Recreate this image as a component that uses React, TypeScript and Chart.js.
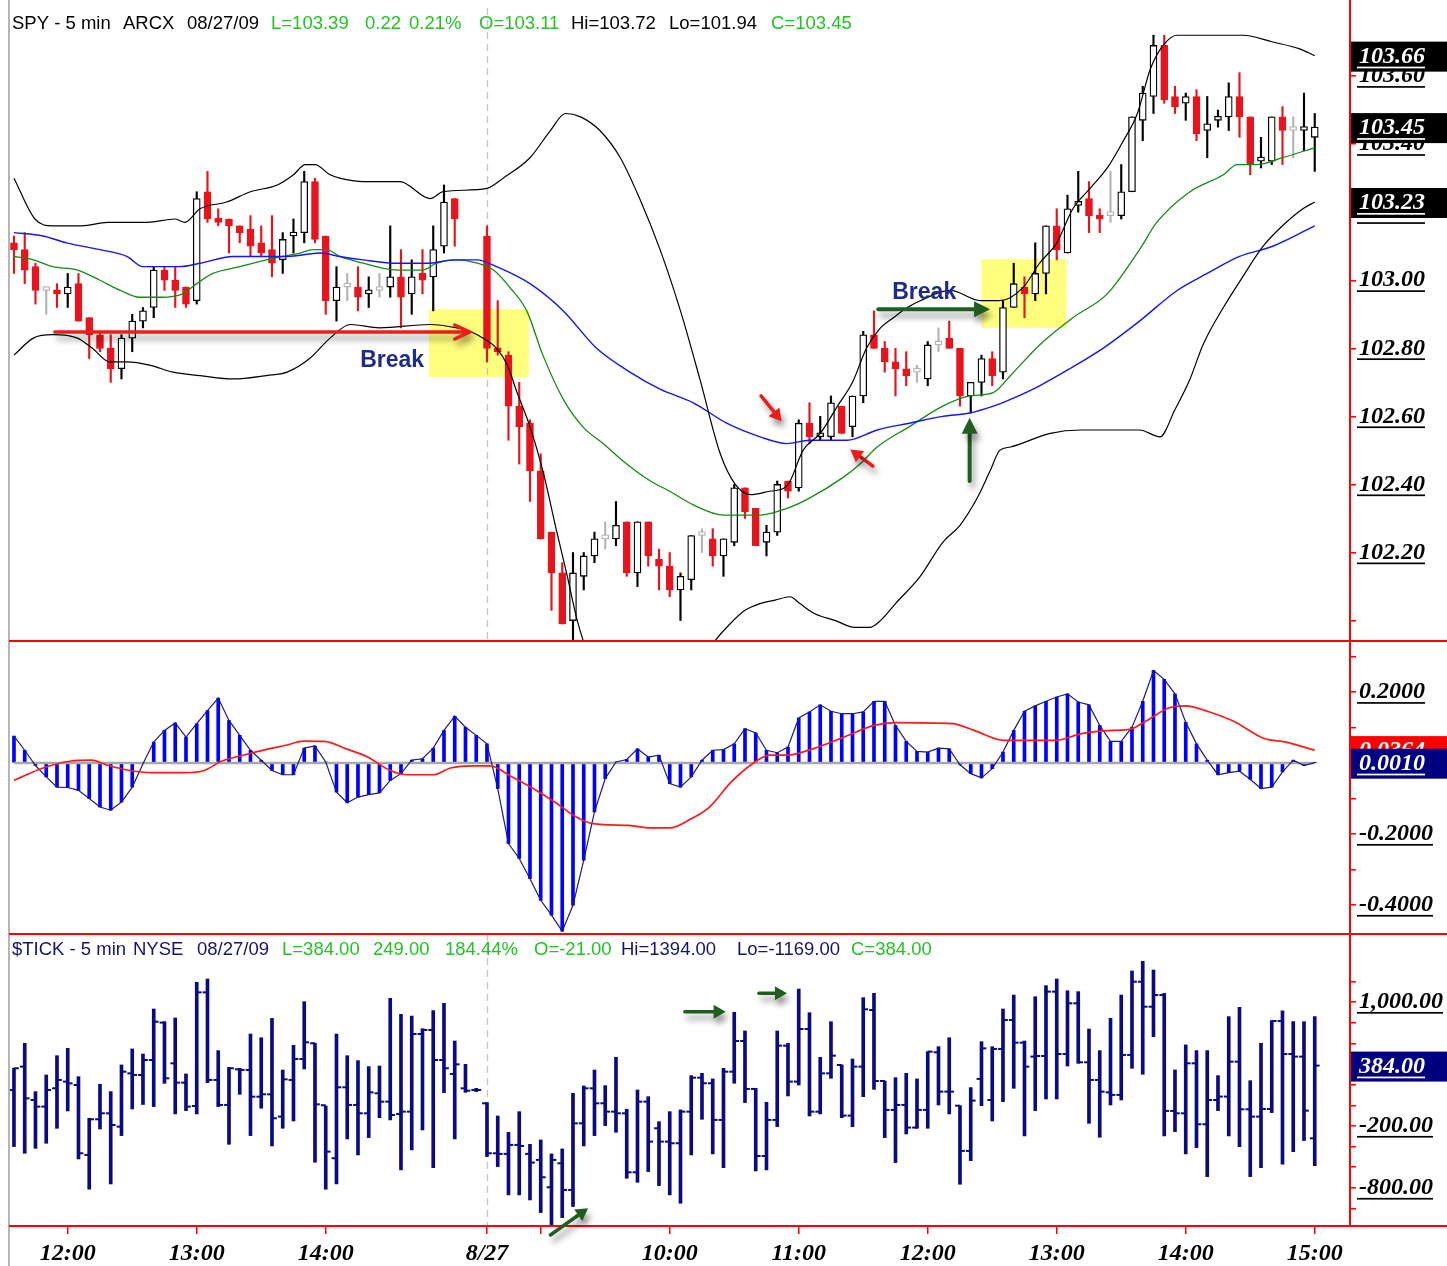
import React, { useEffect, useRef } from 'react';
import { Chart, registerables } from 'chart.js';

Chart.register(...registerables);

const W = 1447;
const H = 1266;

// ---------- categories: 5-minute bars (index 0 = 8/26 11:35 CT, index 44 = 8/27 08:35, index 121 = 15:00)
const xTickBars = [5, 17, 29, 44, 49, 61, 73, 85, 97, 109, 121];
const xTickLabels = ['12:00', '13:00', '14:00', '8/27', '', '10:00', '11:00', '12:00', '13:00', '14:00', '15:00'];
const sessionBreakBar = 44;

// ---------- SPY 5 min candles
const spyOpen = [103.11,103.09,103.04,102.97,102.97,102.96,102.99,102.89,102.84,102.80,
 102.74,102.83,102.88,102.92,103.03,103.00,102.98,102.94,103.26,103.18,
 103.18,103.16,103.15,103.11,103.09,103.06,103.13,103.14,103.29,103.13,
 102.94,102.98,102.98,102.96,102.97,102.98,103.01,102.96,103.02,103.01,
 103.10,103.24,null,null,103.13,102.80,102.78,102.63,102.58,102.44,
 102.26,102.14,102.00,102.13,102.19,102.24,102.24,102.29,102.14,102.29,
 102.18,102.16,102.09,102.12,102.25,102.24,102.19,102.23,102.39,102.33,
 102.23,102.26,102.41,102.39,102.58,102.54,102.54,102.63,102.57,102.66,
 102.84,102.80,102.76,102.74,102.73,102.71,102.81,102.83,102.80,102.66,
 102.70,102.77,102.73,102.92,102.98,102.96,103.02,103.16,103.08,103.22,
 103.24,103.19,103.19,103.19,103.26,103.47,103.54,103.69,103.54,103.52,
 103.54,103.44,103.47,103.48,103.54,103.48,103.35,103.35,103.48,103.44,
 103.44,103.42];
const spyHigh = [103.13,103.14,103.05,102.98,102.99,103.02,103.02,102.89,102.85,102.84,
 102.84,102.90,102.92,103.04,103.04,103.04,102.98,103.26,103.32,103.21,
 103.18,103.16,103.19,103.16,103.19,103.14,103.18,103.32,103.30,103.13,
 103.04,103.02,103.04,103.01,103.02,103.16,103.09,103.06,103.09,103.16,
 103.28,103.24,null,null,103.16,102.94,102.79,102.70,102.59,102.49,
 102.26,102.17,102.20,102.20,102.26,102.29,102.35,102.29,102.29,102.29,
 102.21,102.20,102.14,102.25,102.27,102.27,102.24,102.40,102.39,102.33,
 102.28,102.41,102.41,102.59,102.64,102.60,102.66,102.63,102.66,102.85,
 102.91,102.82,102.80,102.79,102.75,102.82,102.86,102.88,102.80,102.70,
 102.78,102.79,102.94,103.05,103.01,103.11,103.16,103.21,103.25,103.32,
 103.29,103.21,103.32,103.34,103.48,103.57,103.72,103.72,103.57,103.55,
 103.56,103.54,103.50,103.58,103.61,103.48,103.42,103.48,103.51,103.48,
 103.55,103.49];
const spyLow = [103.02,102.99,102.93,102.90,102.92,102.92,102.88,102.77,102.79,102.70,
 102.71,102.79,102.86,102.89,102.97,102.92,102.92,102.93,103.17,103.16,
 103.08,103.11,103.07,103.07,103.01,103.02,103.08,103.11,103.11,102.90,
 102.88,102.94,102.91,102.92,102.95,102.95,102.86,102.90,102.96,102.91,
 103.08,103.10,null,null,102.76,102.78,102.53,102.46,102.35,102.24,
 102.03,101.99,101.94,102.09,102.17,102.21,102.22,102.13,102.10,102.16,
 102.09,102.07,102.00,102.09,102.20,102.16,102.13,102.22,102.30,102.22,
 102.19,102.25,102.36,102.38,102.52,102.53,102.53,102.55,102.54,102.64,
 102.80,102.73,102.66,102.69,102.70,102.69,102.79,102.80,102.63,102.61,
 102.66,102.69,102.71,102.92,102.89,102.94,102.96,103.06,103.08,103.20,
 103.14,103.14,103.17,103.18,103.26,103.41,103.49,103.52,103.49,103.47,
 103.41,103.36,103.45,103.44,103.42,103.31,103.33,103.34,103.34,103.36,
 103.38,103.32];
const spyClose = [103.09,103.03,102.97,102.97,102.96,102.98,102.88,102.84,102.80,102.74,
 102.83,102.88,102.91,103.03,103.00,102.97,102.93,103.24,103.18,103.17,
 103.16,103.14,103.10,103.08,103.05,103.12,103.14,103.29,103.12,102.94,
 102.98,102.98,102.95,102.97,102.97,103.01,102.95,103.01,103.00,103.09,
 103.23,103.18,null,null,102.80,102.79,102.63,102.57,102.44,102.24,
 102.14,101.99,102.14,102.19,102.24,102.24,102.28,102.14,102.29,102.19,
 102.16,102.09,102.13,102.25,102.25,102.19,102.24,102.39,102.32,102.22,
 102.26,102.40,102.38,102.58,102.54,102.55,102.64,102.55,102.66,102.84,
 102.80,102.76,102.74,102.72,102.73,102.81,102.81,102.80,102.66,102.70,
 102.77,102.72,102.92,102.99,102.96,103.02,103.16,103.09,103.21,103.23,
 103.19,103.18,103.19,103.26,103.48,103.55,103.69,103.53,103.51,103.54,
 103.43,103.46,103.48,103.54,103.48,103.34,103.36,103.48,103.44,103.44,
 103.45,103.45];

// ---------- price overlays [bar index, value]
const upperBand = [[0,103.30],[1.95,103.18],[3.6,103.16],[6.3,103.16],[8.7,103.17],[12.4,103.17],[15,103.18],[15.9,103.17],[17.3,103.21],[19.8,103.23],[22,103.26],[24.5,103.28],[26,103.31],[27.1,103.34],[28,103.34],[29.4,103.31],[30.3,103.30],[32.5,103.29],[35.9,103.29],[38.7,103.24],[39.9,103.26],[44,103.27],[45.5,103.30],[48,103.36],[49.9,103.44],[51.3,103.49],[52.7,103.48],[54.5,103.44],[56.4,103.36],[58.2,103.24],[60.1,103.09],[62,102.91],[63.8,102.71],[65.7,102.49],[67.1,102.40],[68.5,102.37],[70.3,102.38],[71.7,102.39],[72.2,102.41],[73.4,102.50],[75,102.55],[76.6,102.63],[78,102.70],[79.3,102.80],[80.6,102.86],[81.8,102.89],[83.1,102.92],[84.3,102.94],[87.1,102.97],[89.9,102.94],[91.7,102.94],[93.9,102.98],[95.4,103.05],[97,103.11],[98.5,103.21],[100.1,103.27],[101.7,103.33],[103.2,103.41],[104.5,103.49],[105.7,103.62],[106.9,103.69],[108.2,103.72],[111.5,103.72],[114.3,103.72],[117.1,103.70],[119.6,103.68],[121,103.66]];
const lowerBand = [[0,102.78],[1.8,102.83],[3.6,102.84],[5.9,102.83],[7.3,102.80],[8.9,102.76],[10.5,102.76],[12.7,102.75],[14.8,102.73],[17.3,102.72],[20.4,102.71],[23.5,102.72],[25.4,102.73],[27.5,102.77],[29.4,102.83],[31.3,102.87],[34,102.86],[38.7,102.87],[41.2,102.86],[42.4,102.85],[43.6,102.83],[44.9,102.80],[45.9,102.75],[46.8,102.67],[48,102.57],[49.2,102.44],[50.5,102.26],[51.4,102.14],[52.4,102.00],[53.3,101.91],[55.4,101.77],[58.2,101.68],[61,101.74],[63.8,101.87],[65.2,101.94],[66.6,101.99],[68,102.03],[69.4,102.05],[70.8,102.06],[72.2,102.07],[73.1,102.05],[74.5,102.02],[76.4,102.00],[78.2,101.98],[79.6,101.98],[80.6,102.00],[82,102.05],[84.3,102.13],[86.4,102.23],[88,102.28],[89.6,102.36],[90.8,102.44],[91.7,102.50],[92.7,102.51],[96.4,102.55],[99.2,102.56],[102,102.56],[104.7,102.56],[106.6,102.54],[108,102.62],[109.4,102.71],[110.6,102.81],[112.5,102.92],[114.3,103.01],[116.2,103.10],[118,103.16],[119.9,103.21],[121,103.23]];
const blueAverage = [[0,103.14],[2.7,103.13],[4.9,103.11],[8,103.09],[10.5,103.07],[12,103.04],[15.4,103.04],[17.3,103.05],[20.4,103.07],[25.4,103.07],[28.5,103.08],[30.3,103.07],[32.5,103.06],[35.6,103.05],[38.7,103.05],[40.8,103.06],[43.1,103.06],[44.9,103.04],[48,102.99],[51.1,102.91],[54.2,102.80],[57.3,102.73],[60.1,102.68],[63.2,102.64],[66.3,102.58],[69.4,102.54],[71.9,102.52],[74,102.53],[77.5,102.53],[80.3,102.56],[83.3,102.58],[86.4,102.60],[88.9,102.61],[91.1,102.63],[92.7,102.65],[95.4,102.69],[98.2,102.74],[101.3,102.80],[104.7,102.88],[108.2,102.97],[111,103.02],[114,103.07],[117.1,103.10],[121,103.16]];
const greenAverage = [[0,103.07],[1.8,103.06],[3.6,103.04],[5.9,103.03],[8,103.00],[9.9,102.97],[11.7,102.95],[13.6,102.95],[15.7,102.96],[17,102.99],[18.5,103.02],[21,103.04],[23.5,103.06],[25,103.07],[26.6,103.08],[27.8,103.09],[29.1,103.09],[30.3,103.07],[32.5,103.05],[35.6,103.03],[38,103.03],[39.3,103.05],[41.2,103.06],[43.1,103.05],[44.6,103.03],[46.1,102.98],[47.7,102.91],[49.2,102.78],[51.1,102.65],[52.9,102.57],[54.8,102.52],[57,102.46],[59.2,102.41],[61,102.38],[63.2,102.34],[66,102.31],[69.4,102.31],[71.9,102.33],[74,102.36],[77.1,102.42],[78.7,102.46],[80.3,102.51],[83.3,102.57],[86.4,102.63],[88.9,102.66],[91.1,102.67],[92.7,102.72],[95.4,102.81],[98.5,102.89],[101.7,102.96],[104.7,103.09],[106.3,103.17],[109.4,103.26],[112.5,103.31],[113.8,103.34],[115.6,103.34],[118,103.36],[121,103.39]];

// ---------- MACD-style oscillator
const macdHist = [0.076,0.036,-0.007,-0.039,-0.068,-0.069,-0.077,-0.100,-0.124,-0.133,
 -0.110,-0.068,-0.002,0.059,0.092,0.113,0.073,0.111,0.148,0.183,
 0.120,0.078,0.036,0.008,-0.021,-0.033,-0.033,0.042,0.048,0.003,
 -0.082,-0.112,-0.096,-0.089,-0.084,-0.049,-0.030,0.008,0.012,0.042,
 0.092,0.132,0.101,0.078,0.054,-0.072,-0.227,-0.269,-0.326,-0.387,
 -0.429,-0.474,-0.401,-0.274,-0.138,-0.044,0.003,0.010,0.040,0.017,
 0.022,-0.058,-0.068,-0.039,0.008,0.036,0.038,0.054,0.097,0.085,
 0.036,0.029,0.045,0.127,0.144,0.164,0.146,0.139,0.139,0.144,
 0.174,0.174,0.106,0.061,0.033,0.031,0.042,0.040,-0.005,-0.030,
 -0.042,-0.016,0.031,0.092,0.146,0.161,0.174,0.186,0.195,0.172,
 0.164,0.106,0.061,0.061,0.101,0.174,0.261,0.236,0.195,0.115,
 0.054,0.008,-0.033,-0.027,-0.023,-0.046,-0.072,-0.068,-0.025,0.008,
 -0.007,0.001];
const macdSignal = [[0,-0.049],[2.7,-0.014],[5.2,0.005],[7.2,0.008],[8.8,-0.007],[10.8,-0.021],[12.8,-0.027],[16,-0.027],[17.7,-0.021],[19.3,0.005],[21.3,0.022],[23.7,0.040],[25.3,0.050],[26.9,0.062],[28.9,0.061],[30.9,0.040],[32.9,0.017],[35,-0.021],[36.6,-0.033],[39,-0.033],[40.6,-0.014],[42.7,-0.008],[44.3,-0.008],[46.3,-0.039],[48.3,-0.072],[50.3,-0.110],[52.3,-0.152],[53.9,-0.171],[57.2,-0.176],[59.2,-0.183],[61,-0.183],[63,-0.157],[64.7,-0.124],[66.7,-0.054],[68.7,-0.002],[70.3,0.022],[71.9,0.022],[74.3,0.040],[77.2,0.073],[80,0.106],[82,0.114],[87.3,0.111],[89.3,0.092],[92.1,0.064],[96.9,0.064],[99.3,0.083],[102.2,0.092],[103.8,0.095],[105.4,0.120],[107.4,0.155],[109,0.161],[111,0.146],[113.5,0.117],[116.3,0.069],[118.3,0.059],[121,0.0364]];

// ---------- $TICK 5 min OHLC
const tickOpen = [148,374,51,-13,164,229,196,-481,-136,-78,-207,309,293,438,800,406,219,-7,1093,245,3,348,342,83,106,-110,245,448,600,0,-513,174,3,-78,116,35,-84,-62,690,729,438,303,164,148,19,-465,-471,-384,-471,-529,-794,-562,-820,-175,164,19,-62,-78,-649,35,-223,-352,-368,-62,267,213,-142,325,622,158,-491,-142,577,229,738,-62,309,390,-100,374,922,235,-45,3,-216,-45,513,132,-4,-442,255,51,545,825,606,471,477,1100,496,987,416,245,125,100,487,1196,954,1067,-55,-78,406,-184,51,84,422,-39,-110,-36,816,496,471,-320];
const tickHigh = [358,600,132,293,480,551,277,-126,203,132,390,545,496,932,809,845,303,1190,1222,529,367,358,690,654,841,341,580,1003,600,0,690,480,432,374,380,1035,880,864,741,916,987,622,396,164,25,-104,-262,-62,-378,-336,-471,-423,116,187,341,190,464,-39,148,83,-159,-62,-45,287,309,255,358,900,719,164,29,719,600,1125,896,464,809,390,448,1042,1084,235,267,309,255,519,567,654,-4,171,616,567,932,1067,622,1051,1158,1222,1109,1100,738,529,842,1067,1300,1394,1309,1084,342,584,529,529,287,858,948,238,600,820,913,809,809,858];
const tickLow = [-400,-465,-417,-368,-223,-55,-520,-813,-230,-762,-294,-36,0,-13,212,-84,-52,-84,219,-13,-378,106,-294,-29,-394,-223,-152,351,-552,-813,-762,-326,-481,-313,-120,-142,-626,-433,-239,-604,122,-326,125,132,-497,-594,-868,-868,-917,-1039,-1169,-1088,-981,-394,-294,-197,-262,-707,-746,-642,-778,-868,-949,-481,-136,-471,-604,213,26,-636,-626,-207,90,196,-104,-84,261,-120,-207,83,154,-313,-555,-278,-223,-223,3,-84,-765,-536,-4,-152,35,164,-297,-52,61,61,380,406,-175,-310,3,51,358,300,664,-297,-255,-471,-410,-691,-52,-297,-400,-691,-604,-71,-571,-449,-342,-584];
const tickClose = [358,67,-13,148,245,212,-465,-136,-78,-191,325,293,438,809,261,219,-13,1093,245,3,358,342,83,106,-126,251,448,609,9,-449,174,3,-78,125,35,-94,-62,690,729,438,358,396,141,148,-465,-471,-384,-394,-555,-697,-529,-820,-175,164,19,-62,-78,-649,35,-352,-352,-368,-62,267,213,-142,325,622,158,-491,-142,577,229,738,-62,309,480,-100,374,929,235,-45,3,-216,-45,519,132,132,-442,45,551,545,825,606,374,477,1100,496,987,416,245,132,100,487,1196,954,1067,-55,-78,406,-184,51,84,422,-39,-110,-36,816,496,471,-52,384];

// ---------- axis ticks
const priceTickValues = [102.0, 102.2, 102.4, 102.6, 102.8, 103.0, 103.2, 103.4, 103.6];
const priceLabelValues = [102.2, 102.4, 102.6, 102.8, 103.0, 103.2, 103.4, 103.6];
const macdTickValues = [0.3, 0.2, 0.1, 0, -0.1, -0.2, -0.3, -0.4];
const macdLabelValues = [0.2, 0, -0.2, -0.4];
const tickTickValues = [1200, 1000, 800, 600, 400, 200, 0, -200, -400, -600, -800, -1000];
const tickLabelValues = [1000, 400, -200, -800];

// ---------- annotations (data coordinates)
const highlightBoxes = [
  { from: 38.6, to: 47.9, top: 102.915, bottom: 102.716 },
  { from: 90.0, to: 97.9, top: 103.062, bottom: 102.86 },
];
const priceArrows = [
  { from: [3.8, 102.848], to: [42.4, 102.848], color: '#ee1c1c', kind: 'chevron' },
  { from: [80.4, 102.915], to: [90.8, 102.915], color: '#1f5e1f', kind: 'big' },
  { from: [69.5, 102.66], to: [71.4, 102.586], color: '#ee1c1c', kind: 'small' },
  { from: [79.9, 102.454], to: [77.8, 102.503], color: '#ee1c1c', kind: 'small' },
  { from: [88.9, 102.41], to: [88.9, 102.596], color: '#1f5e1f', kind: 'big' },
];
const tickArrows = [
  { from: [62.4, 906], to: [66.2, 906], color: '#1f5e1f', kind: 'small' },
  { from: [69.3, 1084], to: [71.9, 1084], color: '#1f5e1f', kind: 'small' },
  { from: [49.9, -1256], to: [53.4, -997], color: '#1f5e1f', kind: 'small' },
];
const breakLabels = [
  { at: 32.2, price: 102.765, text: 'Break' },
  { at: 81.7, price: 102.965, text: 'Break' },
];

const RED = '#e8141c';
const DOJI = '#b4b4b4';
const NAVY = '#0a0a82';
const TXT_GREEN = '#22c422';

const lastOf = (a: any[]) => a[a.length - 1];
const maxOf = (a: any[]) => Math.max(...a.filter((v) => v != null));
const minOf = (a: any[]) => Math.min(...a.filter((v) => v != null));

const spyHeader = [
  { text: 'SPY - 5 min', color: '#000' },
  { text: 'ARCX', color: '#000' },
  { text: '08/27/09', color: '#000' },
  { text: 'L=103.39', color: TXT_GREEN },
  { text: '0.22', color: TXT_GREEN },
  { text: '0.21%', color: TXT_GREEN },
  { text: 'O=103.11', color: TXT_GREEN },
  { text: 'Hi=' + maxOf(spyHigh).toFixed(2), color: '#000' },
  { text: 'Lo=' + minOf(spyLow).toFixed(2), color: '#000' },
  { text: 'C=' + lastOf(spyClose).toFixed(2), color: TXT_GREEN },
];
const spyHeaderX = [12, 123, 187, 271, 365, 409, 479, 571, 669, 771];
const tickHeader = [
  { text: '$TICK - 5 min', color: '#141470' },
  { text: 'NYSE', color: '#141470' },
  { text: '08/27/09', color: '#141470' },
  { text: 'L=384.00', color: TXT_GREEN },
  { text: '249.00', color: TXT_GREEN },
  { text: '184.44%', color: TXT_GREEN },
  { text: 'O=-21.00', color: TXT_GREEN },
  { text: 'Hi=' + maxOf(tickHigh).toFixed(2), color: '#141470' },
  { text: 'Lo=' + minOf(tickLow).toFixed(2), color: '#141470' },
  { text: 'C=' + lastOf(tickClose).toFixed(2), color: TXT_GREEN },
];
const tickHeaderX = [12, 133, 197, 282, 373, 445, 534, 621, 737, 851];

const pts = (arr: number[][]) => arr.map(([x, y]) => ({ x, y }));
const fmtTick = (v: number) => v.toLocaleString('en-US', { minimumFractionDigits: 2, maximumFractionDigits: 2 });

function hline(ctx: any, x0: number, y0: number, x1: number, y1: number) {
  ctx.beginPath();
  ctx.moveTo(x0, y0);
  ctx.lineTo(x1, y1);
  ctx.stroke();
}

function drawArrow(ctx: any, x0: number, y0: number, x1: number, y1: number, color: string, kind: string) {
  const ang = Math.atan2(y1 - y0, x1 - x0);
  const cos = Math.cos(ang), sin = Math.sin(ang);
  const width = kind === 'big' ? 4 : 3.5;
  const len = kind === 'big' ? 16 : kind === 'chevron' ? 15 : 12;
  const half = kind === 'big' ? 8 : 7;
  ctx.save();
  ctx.shadowColor = 'rgba(0,0,0,0.4)';
  ctx.shadowBlur = 6;
  ctx.shadowOffsetX = 3;
  ctx.shadowOffsetY = 6;
  ctx.strokeStyle = color;
  ctx.fillStyle = color;
  ctx.lineWidth = width;
  ctx.lineCap = 'round';
  ctx.lineJoin = 'round';
  const hx = x1 - cos * len, hy = y1 - sin * len;
  const px = -sin * half, py = cos * half;
  ctx.beginPath();
  ctx.moveTo(x0, y0);
  if (kind === 'chevron') {
    ctx.lineTo(x1 - cos * 2, y1 - sin * 2);
    ctx.moveTo(hx + px, hy + py);
    ctx.lineTo(x1, y1);
    ctx.lineTo(hx - px, hy - py);
    ctx.stroke();
  } else {
    ctx.lineTo(hx + cos * 2, hy + sin * 2);
    ctx.stroke();
    ctx.beginPath();
    ctx.moveTo(x1, y1);
    ctx.lineTo(hx + px, hy + py);
    ctx.lineTo(hx - px, hy - py);
    ctx.closePath();
    ctx.fill();
  }
  ctx.restore();
}

const AXIS_FONT = 'italic bold 24px "Liberation Serif", "Times New Roman", serif';

function axisText(ctx: any, text: string, x: number, y: number, color: string) {
  ctx.fillStyle = color;
  ctx.fillText(text, x, y);
  const w = ctx.measureText(text).width;
  ctx.fillRect(x - 2, y + 10, w + 2, 1.7);
}

const decorPlugin = {
  id: 'decor',
  beforeDatasetsDraw(chart: any) {
    const { ctx, scales } = chart;
    const x = scales.x, yP = scales.yPrice, yT = scales.yTick;
    ctx.save();
    ctx.fillStyle = 'rgba(255,255,40,0.6)';
    highlightBoxes.forEach((b) => {
      const l = x.getPixelForValue(b.from), r = x.getPixelForValue(b.to);
      const t = yP.getPixelForValue(b.top), bt = yP.getPixelForValue(b.bottom);
      ctx.fillRect(l, t, r - l, bt - t);
    });
    const sx = Math.round(x.getPixelForValue(sessionBreakBar)) + 0.5;
    ctx.strokeStyle = '#c4c4c4';
    ctx.lineWidth = 1.3;
    ctx.setLineDash([7, 5]);
    [yP, yT].forEach((s) => hline(ctx, sx, s.top, sx, s.bottom));
    ctx.restore();
  },
  beforeDatasetDraw(chart: any, args: any) {
    const ys = args.meta.yScale;
    const ctx = chart.ctx;
    ctx.save();
    ctx.beginPath();
    ctx.rect(chart.chartArea.left, ys.top, chart.chartArea.right - chart.chartArea.left, ys.bottom - ys.top);
    ctx.clip();
  },
  afterDatasetDraw(chart: any) {
    chart.ctx.restore();
  },
  afterDraw(chart: any) {
    const { ctx, scales, chartArea } = chart;
    const x = scales.x, yP = scales.yPrice, yM = scales.yMacd, yT = scales.yTick;
    ctx.save();
    // frame
    ctx.strokeStyle = '#9c9c9c';
    ctx.lineWidth = 1.5;
    hline(ctx, 9, 0, 9, H);
    ctx.strokeStyle = '#ff0000';
    ctx.lineWidth = 2;
    hline(ctx, chartArea.right, 0, chartArea.right, yT.bottom);
    [yP.bottom, yM.bottom, yT.bottom].forEach((yy) => hline(ctx, 9, yy, W, yy));

    // right axis labels
    ctx.font = AXIS_FONT;
    ctx.textAlign = 'left';
    ctx.textBaseline = 'middle';
    const lx = chartArea.right + 9;
    priceLabelValues.forEach((v) => axisText(ctx, v.toFixed(2), lx, yP.getPixelForValue(v), '#000'));
    macdLabelValues.forEach((v) => axisText(ctx, v.toFixed(4), lx, yM.getPixelForValue(v), '#000'));
    tickLabelValues.forEach((v) => axisText(ctx, fmtTick(v), lx, yT.getPixelForValue(v), '#000'));

    // last-value boxes
    const box = (text: string, py: number, bg: string) => {
      ctx.fillStyle = bg;
      ctx.fillRect(chartArea.right + 1, py - 14, W - chartArea.right - 1, 30);
      axisText(ctx, text, lx, py + 1, '#ffffff');
    };
    box(lastOf(upperBand)[1].toFixed(2), yP.getPixelForValue(lastOf(upperBand)[1]), '#000');
    box(lastOf(spyClose).toFixed(2), yP.getPixelForValue(lastOf(spyClose)), '#000');
    box(lastOf(lowerBand)[1].toFixed(2), yP.getPixelForValue(lastOf(lowerBand)[1]), '#000');
    box(lastOf(macdSignal)[1].toFixed(4), yM.getPixelForValue(lastOf(macdSignal)[1]), '#ff0000');
    box(lastOf(macdHist).toFixed(4), yM.getPixelForValue(lastOf(macdHist)), '#000080');
    box(fmtTick(lastOf(tickClose)), yT.getPixelForValue(lastOf(tickClose)), '#000080');

    // time axis labels
    ctx.textAlign = 'center';
    ctx.fillStyle = '#000';
    xTickBars.forEach((b, k) => {
      if (!xTickLabels[k]) return;
      ctx.fillText(xTickLabels[k], x.getPixelForValue(b), yT.bottom + 28);
    });

    // highlight annotations
    priceArrows.forEach((a) => drawArrow(ctx,
      x.getPixelForValue(a.from[0]), yP.getPixelForValue(a.from[1]),
      x.getPixelForValue(a.to[0]), yP.getPixelForValue(a.to[1]), a.color, a.kind));
    tickArrows.forEach((a) => drawArrow(ctx,
      x.getPixelForValue(a.from[0]), yT.getPixelForValue(a.from[1]),
      x.getPixelForValue(a.to[0]), yT.getPixelForValue(a.to[1]), a.color, a.kind));
    ctx.font = 'bold 23px "Liberation Sans", Arial, sans-serif';
    ctx.textAlign = 'left';
    ctx.fillStyle = '#1e2a8c';
    breakLabels.forEach((b) => ctx.fillText(b.text, x.getPixelForValue(b.at), yP.getPixelForValue(b.price)));

    // headers
    ctx.font = '18.5px "Liberation Sans", Arial, sans-serif';
    spyHeader.forEach((s, k) => { ctx.fillStyle = s.color; ctx.fillText(s.text, spyHeaderX[k], yP.top + 16); });
    tickHeader.forEach((s, k) => { ctx.fillStyle = s.color; ctx.fillText(s.text, tickHeaderX[k], yT.top + 16); });
    ctx.restore();
  },
};

function buildConfig(): any {
  const bodyData: any[] = [], bodyFill: string[] = [], bodyLine: string[] = [];
  const wickData: any[] = [], wickFill: string[] = [];
  spyOpen.forEach((o, i) => {
    const c = spyClose[i], h = spyHigh[i], l = spyLow[i];
    if (o == null || c == null || h == null || l == null) return;
    const col = c > o ? '#000000' : c < o ? RED : DOJI;
    bodyData.push({ x: i, y: [o, c] });
    bodyFill.push(c < o ? RED : '#ffffff');
    bodyLine.push(col);
    wickData.push({ x: i, y: [l, h] });
    wickFill.push(col);
  });
  const histData = macdHist.map((v, i) => ({ x: i, y: v }));
  const tickBars = tickHigh.map((h, i) => ({ x: i, y: [tickLow[i], h] }));
  const tickOpenMarks = tickOpen.map((v, i) => ({ x: i - 0.22, y: v }));
  const tickCloseMarks = tickClose.map((v, i) => ({ x: i + 0.22, y: v }));

  const lineBase = { type: 'line', xAxisID: 'x', pointRadius: 0, fill: false, cubicInterpolationMode: 'monotone' };
  const yAxis = (weight: number, min: number, max: number, ticks: number[]) => ({
    type: 'linear',
    position: 'right',
    stack: 'panes',
    stackWeight: weight,
    min,
    max,
    offset: false,
    grid: { drawOnChartArea: false, drawTicks: true, tickLength: 6, color: '#ff0000', lineWidth: 1.5 },
    border: { display: true, color: '#ff0000', width: 2 },
    ticks: { display: false },
    afterBuildTicks: (s: any) => { s.ticks = ticks.map((v) => ({ value: v })); },
    afterFit: (s: any) => { s.width = 97; },
  });

  return {
    type: 'bar',
    data: {
      datasets: [
        { ...lineBase, label: 'Upper band', data: pts(upperBand), yAxisID: 'yPrice', borderColor: '#000', borderWidth: 1.2, order: 1 },
        { ...lineBase, label: 'Lower band', data: pts(lowerBand), yAxisID: 'yPrice', borderColor: '#000', borderWidth: 1.2, order: 1 },
        { ...lineBase, label: 'Blue average', data: pts(blueAverage), yAxisID: 'yPrice', borderColor: '#1414ff', borderWidth: 1.4, order: 1 },
        { ...lineBase, label: 'Green average', data: pts(greenAverage), yAxisID: 'yPrice', borderColor: '#158a15', borderWidth: 1.3, order: 1 },
        { type: 'bar', label: 'Body', data: bodyData, xAxisID: 'x', yAxisID: 'yPrice', backgroundColor: bodyFill, borderColor: bodyLine, borderWidth: 1.3, borderSkipped: false, barThickness: 7, minBarLength: 4, grouped: false, order: 2 },
        { type: 'bar', label: 'Wick', data: wickData, xAxisID: 'x', yAxisID: 'yPrice', backgroundColor: wickFill, borderWidth: 0, barThickness: 1.5, grouped: false, order: 3 },

        { ...lineBase, label: 'Signal', data: pts(macdSignal), yAxisID: 'yMacd', borderColor: '#ff1a1a', borderWidth: 1.7, order: 1 },
        { ...lineBase, label: 'Outline', data: histData, yAxisID: 'yMacd', borderColor: '#1c1c78', borderWidth: 1.2, cubicInterpolationMode: 'default', tension: 0, order: 2 },
        { ...lineBase, label: 'Zero', data: [{ x: 0, y: 0 }, { x: macdHist.length - 1, y: 0 }], yAxisID: 'yMacd', borderColor: '#a8a8a8', borderWidth: 2.5, tension: 0, order: 3 },
        { type: 'bar', label: 'Histogram', data: histData, xAxisID: 'x', yAxisID: 'yMacd', backgroundColor: '#0000ff', borderWidth: 0, barThickness: 3, grouped: false, order: 4 },

        { type: 'line', label: 'Open', data: tickOpenMarks, xAxisID: 'x', yAxisID: 'yTick', showLine: false, pointStyle: 'line', pointRadius: 2.5, pointBorderWidth: 2, pointBorderColor: NAVY, borderColor: NAVY, order: 1 },
        { type: 'line', label: 'Close', data: tickCloseMarks, xAxisID: 'x', yAxisID: 'yTick', showLine: false, pointStyle: 'line', pointRadius: 2.5, pointBorderWidth: 2, pointBorderColor: NAVY, borderColor: NAVY, order: 1 },
        { type: 'bar', label: 'TICK', data: tickBars, xAxisID: 'x', yAxisID: 'yTick', backgroundColor: NAVY, borderWidth: 0, barThickness: 3, grouped: false, order: 2 },
      ],
    },
    options: {
      responsive: false,
      animation: false,
      devicePixelRatio: 1,
      events: [],
      layout: { padding: { top: 8, left: 10, right: 0, bottom: 0 } },
      plugins: { legend: { display: false }, tooltip: { enabled: false } },
      scales: {
        x: {
          type: 'linear',
          position: 'bottom',
          min: -0.37,
          max: 124.28,
          offset: false,
          grid: { drawOnChartArea: false, drawTicks: true, tickLength: 8, color: '#ff0000', lineWidth: 1.5, offset: false },
          border: { display: true, color: '#ff0000', width: 2 },
          ticks: { display: false },
          afterBuildTicks: (s: any) => { s.ticks = xTickBars.map((v) => ({ value: v })); },
          afterFit: (s: any) => { s.height = 40; },
        },
        yPrice: yAxis(633, 101.94, 103.80, priceTickValues),
        yMacd: yAxis(293, -0.482, 0.344, macdTickValues),
        yTick: yAxis(292, -1169, 1658, tickTickValues),
      },
    },
    plugins: [decorPlugin],
  };
}

export default function App() {
  const ref = useRef<HTMLCanvasElement>(null);
  useEffect(() => {
    if (!ref.current) return;
    const chart = new Chart(ref.current, buildConfig());
    return () => chart.destroy();
  }, []);
  return (
    <div style={{ position: 'fixed', left: 0, top: 0, width: W, height: H, background: '#ffffff' }}>
      <canvas ref={ref} width={W} height={H} style={{ display: 'block', width: W, height: H }} />
    </div>
  );
}
